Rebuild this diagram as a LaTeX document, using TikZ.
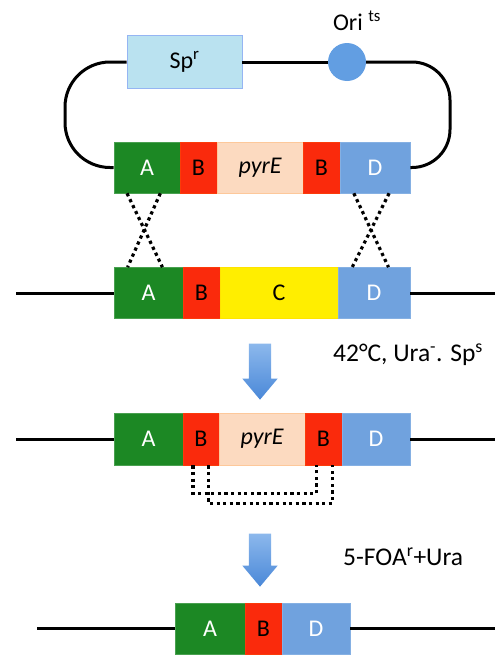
\documentclass[tikz,border=0pt]{standalone}
\usepackage{fontspec}
\setmainfont{Carlito}
\usetikzlibrary{shapes.arrows,calc}
\definecolor{colA}{RGB}{28,136,36}
\definecolor{colB}{RGB}{250,42,12}
\definecolor{colPyr}{RGB}{252,218,192}
\definecolor{colC}{RGB}{255,238,0}
\definecolor{colD}{RGB}{112,162,222}
\definecolor{colSp}{RGB}{186,226,240}
\definecolor{colOri}{RGB}{98,158,226}
\definecolor{arrLight}{RGB}{140,184,236}
\definecolor{arrDark}{RGB}{74,136,216}
\begin{document}
\begin{tikzpicture}[
  x=1pt, y=-1pt,
  font=\fontsize{24}{28}\selectfont,
  seg/.style={draw, rectangle, inner sep=0pt, minimum height=51pt, line width=0.6pt},
  segA/.style={seg, fill=colA, draw=colA!80!white, text=white},
  segB/.style={seg, fill=colB, draw=colB!80!orange, text=black},
  segPyr/.style={seg, fill=colPyr, draw=colPyr!80!orange, font=\fontsize{24}{28}\selectfont\itshape},
  segC/.style={seg, fill=colC, draw=colC!90!orange},
  segD/.style={seg, fill=colD, draw=colD!85!white, text=white},
  dna/.style={line width=3pt},
  xover/.style={line width=3.2pt, dash pattern=on 3.2pt off 3.4pt},
  flow/.style={single arrow, rotate=-90, inner xsep=0pt, inner ysep=11pt, minimum width=35pt,
    single arrow head extend=6.5pt, single arrow head indent=0pt,
    single arrow tip angle=80, top color=arrLight, bottom color=arrDark},
  cond/.style={anchor=west, inner sep=0pt, font=\fontsize{25.5}{30}\selectfont},
]
\useasboundingbox (0,0) rectangle (495,656);

\node[seg, fill=colSp, draw=colSp!80!blue, minimum width=115pt, minimum height=53pt] (sp) at (184.5,62) {Sp\textsuperscript{r}};
\node[circle, fill=colOri, inner sep=0pt, minimum size=38pt] (ori) at (347,62) {};
\node[inner sep=0pt] (orilbl) at (357,21) {Ori \textsuperscript{ts}};

\node[segA, minimum width=66pt]   (pA)  at (147,167.5)   {A};
\node[segB, minimum width=37pt]   (pB1) at (198.5,167.5) {B};
\node[segPyr, minimum width=86pt] (pP)  at (260,167.5)   {pyrE};
\node[segB, minimum width=37pt]   (pB2) at (321.5,167.5) {B};
\node[segD, minimum width=70pt]   (pD)  at (375,167.5)   {D};

\node[segA, minimum width=69pt]  (cA) at (148.5,293) {A};
\node[segB, minimum width=37pt]  (cB) at (201.5,293) {B};
\node[segC, minimum width=118pt] (cC) at (279,293)   {C};
\node[segD, minimum width=72pt]  (cD) at (374,293)   {D};
\coordinate (cl) at (16,293);
\coordinate (cr) at (495,293);

\node[flow, minimum height=56pt] (step1) at (260,365) {};
\node[cond] (cond1) at (333,355) {42°C, Ura\textsuperscript{-}. Sp\textsuperscript{s}};

\node[segA, minimum width=69pt, minimum height=52pt]   (eA)  at (148.5,439) {A};
\node[segB, minimum width=36pt, minimum height=52pt]   (eB1) at (201,439)   {B};
\node[segPyr, minimum width=86pt, minimum height=52pt] (eP)  at (262,439)   {pyrE};
\node[segB, minimum width=37pt, minimum height=52pt]   (eB2) at (323.5,439) {B};
\node[segD, minimum width=68pt, minimum height=52pt]   (eD)  at (376,439)   {D};
\coordinate (el) at (16,439);
\coordinate (er) at (495,439);

\node[flow, minimum height=53pt] (step2) at (260,553.5) {};
\node[cond] (cond2) at (343,557) {5-FOA\textsuperscript{r}+Ura};

\node[segA, minimum width=70pt] (fA) at (210,628.5)   {A};
\node[segB, minimum width=37pt] (fB) at (263.5,628.5) {B};
\node[segD, minimum width=68pt] (fD) at (316,628.5)   {D};
\coordinate (fl) at (37,628.5);
\coordinate (fr) at (495,628.5);

\draw[dna] (sp.east) -- (ori.west);
\draw[dna, rounded corners=45pt] (sp.west) -- (65,62) -- (65,167.5) -- (pA.west);
\draw[dna, rounded corners=38pt] (ori.east) -- (450,62) -- (450,167.5) -- (pD.east);

\draw[xover] ($(pA.south west)!0.2!(pA.south east)$) -- ($(cA.north west)!0.7!(cA.north east)$);
\draw[xover] ($(pA.south west)!0.7!(pA.south east)$) -- ($(cA.north west)!0.2!(cA.north east)$);
\draw[xover] ($(pD.south west)!0.2!(pD.south east)$) -- ($(cD.north west)!0.7!(cD.north east)$);
\draw[xover] ($(pD.south west)!0.7!(pD.south east)$) -- ($(cD.north west)!0.2!(cD.north east)$);

\draw[dna] (cl) -- (cA.west);
\draw[dna] (cD.east) -- (cr);

\draw[dna] (el) -- (eA.west);
\draw[dna] (eD.east) -- (er);
\draw[xover] ($(eB1.south west)!0.28!(eB1.south east)$) -- ++(0,28) -| ($(eB2.south west)!0.32!(eB2.south east)$);
\draw[xover] ($(eB1.south west)!0.7!(eB1.south east)$) -- ++(0,38) -| ($(eB2.south west)!0.73!(eB2.south east)$);

\draw[dna] (fl) -- (fA.west);
\draw[dna] (fD.east) -- (fr);
\end{tikzpicture}
\end{document}
